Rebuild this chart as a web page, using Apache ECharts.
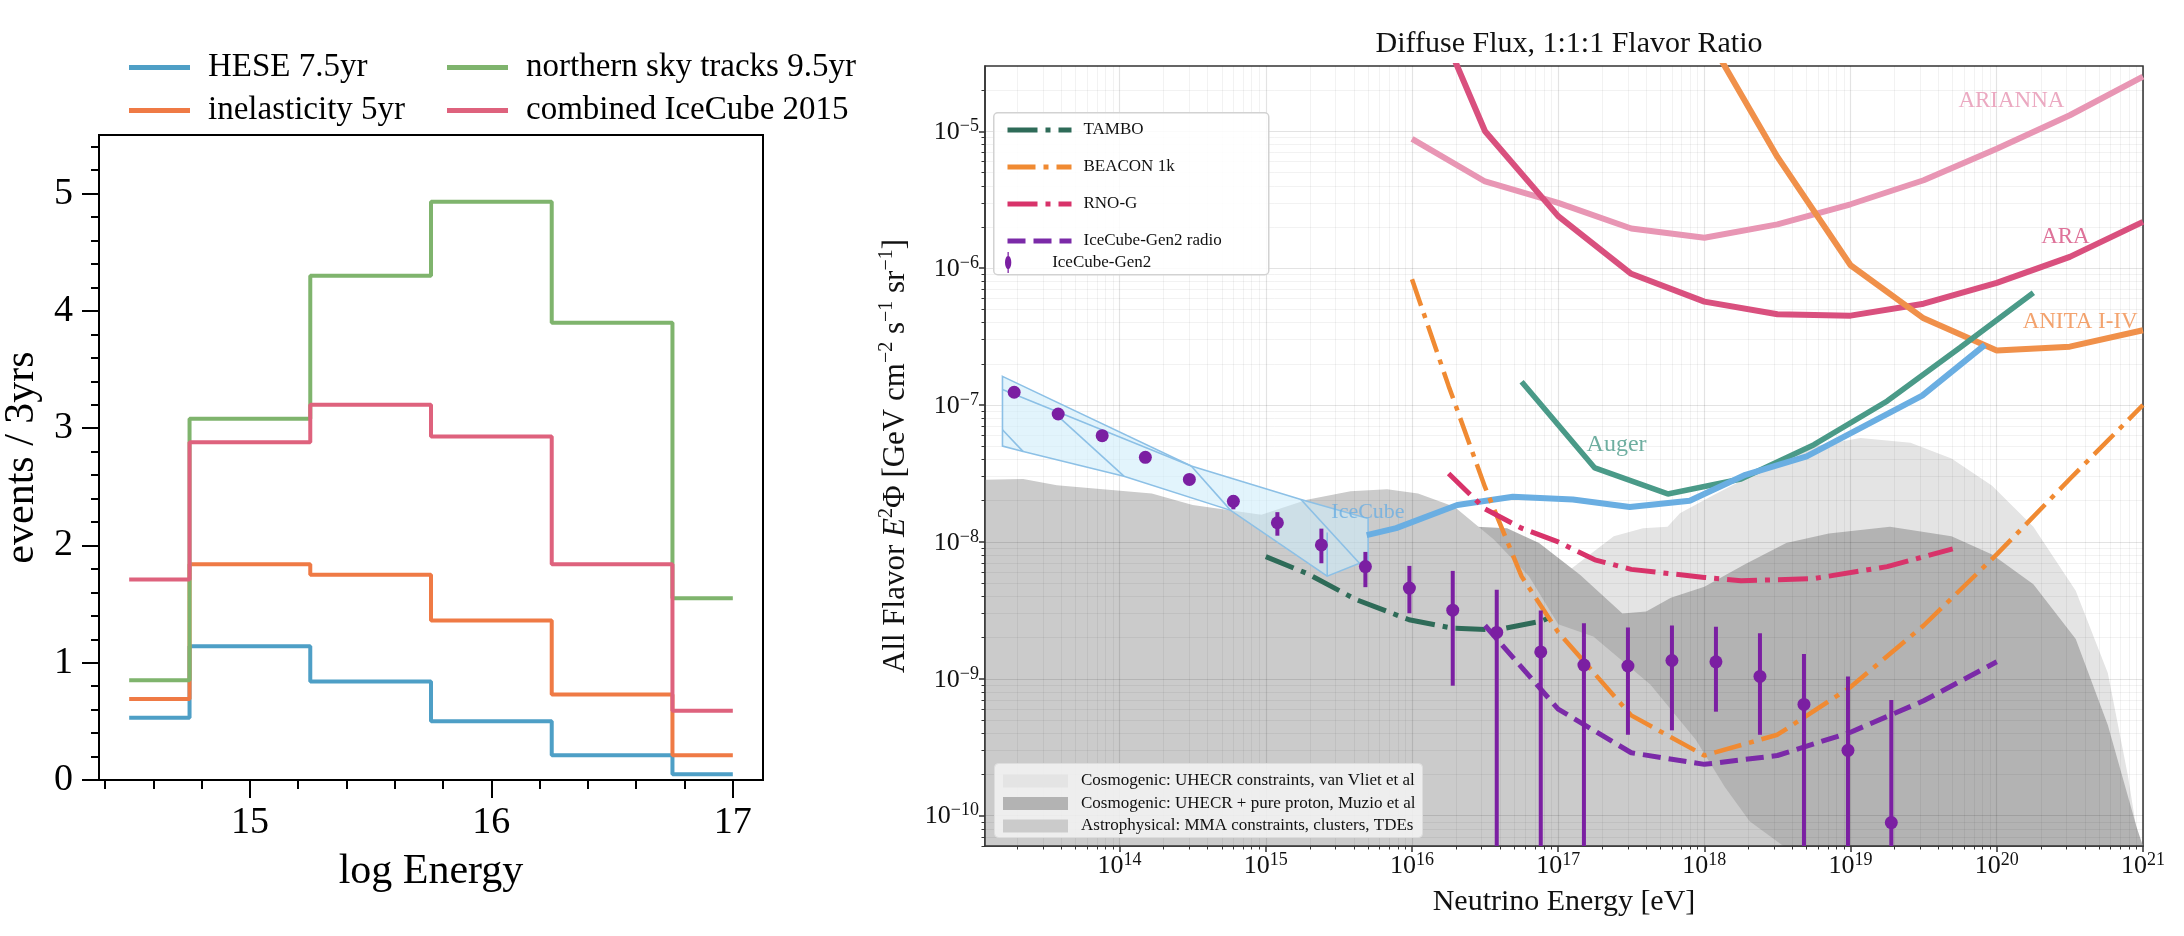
<!DOCTYPE html>
<html>
<head>
<meta charset="utf-8">
<script src="https://cdn.jsdelivr.net/npm/echarts@6/dist/echarts.min.js"></script>
<style>
  html, body { margin: 0; padding: 0; background: #fff; }
  #chart { width: 2184px; height: 936px; }
</style>
</head>
<body>
<div id="chart"></div>
<script>
// ---------- left panel: events per bin ----------
const binEdges = [14.5, 14.75, 15.25, 15.75, 16.25, 16.75, 17.0];
const heseEvents = [0.53, 1.14, 0.84, 0.50, 0.21, 0.05];
const inelasticityEvents = [0.69, 1.84, 1.75, 1.36, 0.73, 0.21];
const northernEvents = [0.85, 3.08, 4.30, 4.93, 3.90, 1.55];
const combinedEvents = [1.71, 2.88, 3.20, 2.93, 1.84, 0.59];
const histXTicks = [15, 16, 17];
const histXMinor = [14.4, 14.6, 14.8, 15.2, 15.4, 15.6, 15.8, 16.2, 16.4, 16.6, 16.8];
const histYTicks = [0, 1, 2, 3, 4, 5];
const histYMinor = [0.2, 0.4, 0.6, 0.8, 1.2, 1.4, 1.6, 1.8, 2.2, 2.4, 2.6, 2.8,
                    3.2, 3.4, 3.6, 3.8, 4.2, 4.4, 4.6, 4.8, 5.2, 5.4];

// ---------- right panel: diffuse flux sensitivities ----------
const ariannaE = [1e16, 3.16e16, 1e17, 3.16e17, 1e18, 3.16e18, 1e19, 3.16e19, 1e20, 3.16e20, 1e21];
const ariannaF = [8.8e-6, 4.3e-6, 3.0e-6, 1.95e-6, 1.67e-6, 2.09e-6, 2.93e-6, 4.39e-6, 7.46e-6, 1.31e-5, 2.51e-5];
const araE = [1e16, 3.16e16, 1e17, 3.16e17, 1e18, 3.16e18, 1e19, 3.16e19, 1e20, 3.16e20, 1e21];
const araF = [1.78e-4, 1.0e-5, 2.4e-6, 9.1e-7, 5.7e-7, 4.6e-7, 4.5e-7, 5.5e-7, 7.8e-7, 1.21e-6, 2.18e-6];
const anitaE = [1e18, 3.16e18, 1e19, 3.16e19, 1e20, 3.16e20, 1e21];
const anitaF = [5.4e-5, 6.5e-6, 1.05e-6, 4.3e-7, 2.5e-7, 2.67e-7, 3.52e-7];
const augerE = [5.62e16, 1.78e17, 5.62e17, 1.78e18, 5.62e18, 1.78e19, 5.62e19, 1.78e20];
const augerF = [1.48e-7, 3.47e-8, 2.24e-8, 2.88e-8, 5.13e-8, 1.07e-7, 2.63e-7, 6.61e-7];
const icecubeE = [4.9e15, 7.8e15, 2.04e16, 4.9e16, 1.26e17, 3.09e17, 7.94e17, 1.91e18, 5.01e18, 3.09e19, 8.3e19];
const icecubeF = [1.12e-8, 1.26e-8, 1.86e-8, 2.14e-8, 2.04e-8, 1.8e-8, 2.0e-8, 3.09e-8, 4.22e-8, 1.17e-7, 2.75e-7];
const tamboE = [1e15, 1.9e15, 4.17e15, 9.55e15, 1.9e16, 3.8e16, 7.6e16, 8.9e16];
const tamboF = [7.8e-9, 5.9e-9, 3.78e-9, 2.7e-9, 2.34e-9, 2.28e-9, 2.63e-9, 2.82e-9];
const beaconE = [1e16, 1.78e16, 3.16e16, 5.62e16, 1e17, 3.16e17, 1e18, 3.16e18, 1e19, 3.16e19, 1e20, 3.16e20, 1e21];
const beaconF = [8.3e-7, 1.38e-7, 2.51e-8, 5.6e-9, 2.19e-9, 5.4e-10, 2.75e-10, 3.9e-10, 8.7e-10, 2.45e-9, 8.1e-9, 2.88e-8, 1.0e-7];
const rnogE = [1.78e16, 3.16e16, 5.62e16, 1e17, 1.78e17, 3.16e17, 1e18, 1.78e18, 5.62e18, 1.78e19, 5.0e19];
const rnogF = [3.16e-8, 1.74e-8, 1.26e-8, 1.0e-8, 7.4e-9, 6.3e-9, 5.5e-9, 5.2e-9, 5.4e-9, 6.6e-9, 8.9e-9];
const gen2RadioE = [3.16e16, 1e17, 3.16e17, 1e18, 3.16e18, 1e19, 3.16e19, 1e20];
const gen2RadioF = [2.45e-9, 6.0e-10, 2.88e-10, 2.37e-10, 2.75e-10, 4.07e-10, 6.9e-10, 1.33e-9];

// IceCube-Gen2 points (lower bound 0 = error bar down to zero)
const gen2E = [1.9e13, 3.8e13, 7.6e13, 1.5e14, 3.0e14, 6.0e14, 1.2e15, 2.4e15, 4.8e15, 9.6e15, 1.9e16,
               3.8e16, 7.6e16, 1.5e17, 3.0e17, 6.0e17, 1.2e18, 2.4e18, 4.8e18, 9.6e18, 1.9e19];
const gen2F = [1.24e-7, 8.6e-8, 5.97e-8, 4.15e-8, 2.86e-8, 1.98e-8, 1.38e-8, 9.5e-9, 6.6e-9, 4.6e-9, 3.17e-9,
               2.18e-9, 1.57e-9, 1.26e-9, 1.24e-9, 1.36e-9, 1.33e-9, 1.04e-9, 6.5e-10, 3.0e-10, 8.9e-11];
const gen2Lo = [1.19e-7, 8.3e-8, 5.75e-8, 4.0e-8, 2.72e-8, 1.73e-8, 1.11e-8, 6.98e-9, 4.67e-9, 3.01e-9, 8.9e-10,
                0, 0, 0, 3.9e-10, 4.2e-10, 5.75e-10, 3.9e-10, 0, 0, 0];
const gen2Hi = [1.30e-7, 8.9e-8, 6.2e-8, 4.3e-8, 3.0e-8, 2.2e-8, 1.65e-8, 1.25e-8, 8.45e-9, 6.68e-9, 6.14e-9,
                4.47e-9, 3.16e-9, 2.55e-9, 2.37e-9, 2.45e-9, 2.4e-9, 2.15e-9, 1.52e-9, 1.04e-9, 7.0e-10];

// shaded model regions (upper edges, filled down to the axis)
const vanVlietE = [5.0e16, 1.26e17, 2.4e17, 3.8e17, 5.6e17, 6.8e17, 1.15e18, 2.63e18, 5.0e18, 1.17e19,
                   2.57e19, 4.9e19, 9.3e19, 1.78e20, 3.47e20, 5.75e20, 7.9e20, 9.3e20];
const vanVlietF = [3.2e-9, 6.5e-9, 1.1e-8, 1.26e-8, 1.29e-8, 1.62e-8, 2.19e-8, 3.47e-8, 4.9e-8, 5.75e-8,
                   5.3e-8, 4.07e-8, 2.57e-8, 1.29e-8, 4.4e-9, 1.1e-9, 1.95e-10, 6.5e-11];
const muzioE = [1.58e16, 2.75e16, 4.47e16, 7.4e16, 1.41e17, 2.75e17, 4.0e17, 5.9e17, 1e18, 1.91e18,
                3.63e18, 7.1e18, 1.86e19, 4.9e19, 9.3e19, 1.78e20, 3.47e20, 5.75e20, 9.1e20, 1e21];
const muzioF = [6.3e-9, 1.29e-8, 1.26e-8, 9.8e-9, 5.75e-9, 3.0e-9, 3.1e-9, 3.9e-9, 4.7e-9, 6.9e-9,
                9.8e-9, 1.15e-8, 1.29e-8, 1.1e-8, 8.1e-9, 4.9e-9, 1.95e-9, 4.6e-10, 8.1e-11, 5.9e-11];
const astroE = [1.2e13, 2.19e13, 3.72e13, 1.66e14, 3.16e14, 9.33e14, 1.91e15, 3.8e15, 6.76e15, 1.1e16,
                1.95e16, 3.63e16, 6.31e16, 1e17, 1.74e17, 4.27e17, 8.71e17, 1.38e18, 2.04e18, 3.47e18];
const astroF = [2.84e-8, 2.88e-8, 2.59e-8, 2.26e-8, 1.86e-8, 1.58e-8, 2.03e-8, 2.34e-8, 2.43e-8, 2.26e-8,
                1.81e-8, 1.04e-8, 5.6e-9, 2.5e-9, 2.04e-9, 9.1e-10, 3.6e-10, 1.62e-10, 9.1e-11, 5.9e-11];

// IceCube measured band
const bandUpperE = [1.58e13, 3.09e14, 1.74e15, 5.01e15];
const bandUpperF = [1.62e-7, 3.59e-8, 2.04e-8, 1.48e-8];
const bandLowerE = [1.58e13, 2.19e13, 1.07e14, 5.75e14, 2.63e15, 4.37e15, 5.01e15];
const bandLowerF = [5.01e-8, 4.57e-8, 3.02e-8, 1.7e-8, 5.62e-9, 6.98e-9, 6.98e-9];
const bandEdgesE = [[1.58e13, 2.19e13], [3.72e13, 1.07e14], [3.09e14, 5.75e14], [1.74e15, 4.37e15], [2.63e15, 2.63e15], [1.58e13, 3.09e14]];
const bandEdgesF = [[6.6e-8, 4.57e-8], [8.45e-8, 3.02e-8], [3.59e-8, 1.7e-8], [2.04e-8, 6.98e-9], [1.17e-8, 5.62e-9], [1.3e-7, 3.59e-8]];

const fluxXTicks = [1e14, 1e15, 1e16, 1e17, 1e18, 1e19, 1e20, 1e21];
const fluxYTicks = [1e-10, 1e-9, 1e-8, 1e-7, 1e-6, 1e-5];
const decadesX = [1e13, 1e14, 1e15, 1e16, 1e17, 1e18, 1e19, 1e20];
const decadesY = [1e-11, 1e-10, 1e-9, 1e-8, 1e-7, 1e-6, 1e-5];
const mantissas = [2, 3, 4, 5, 6, 7, 8, 9];
const fluxXMinor = [].concat(...decadesX.map(d => mantissas.map(m => m * d)));
const fluxYMinor = [].concat(...decadesY.map(d => mantissas.map(m => m * d)));

// curve names written on the plot
const curveNotes = [
  { text: 'ARIANNA', e: 1.26e20, f: 1.68e-5, color: '#e693b2', size: 23 },
  { text: 'ARA', e: 2.95e20, f: 1.68e-6, color: '#d64f7f', size: 23 },
  { text: 'ANITA I-IV', e: 3.72e20, f: 4.04e-7, color: '#f08c4a', size: 23 },
  { text: 'Auger', e: 2.51e17, f: 5.13e-8, color: '#4a9a88', size: 24 },
  { text: 'IceCube', e: 5.0e15, f: 1.66e-8, color: '#6aaee2', size: 22 }
];

const FONT = 'Liberation Serif';
const chart = echarts.init(document.getElementById('chart'));

const pairs = (xs, ys) => xs.map((x, i) => [x, ys[i]]);
const stepData = vals => binEdges.map((x, i) => [x, vals[Math.min(i, vals.length - 1)]]);

function histSeries(name, vals, color) {
  return {
    name, type: 'line', xAxisIndex: 0, yAxisIndex: 0, step: 'end', symbol: 'none',
    data: stepData(vals), lineStyle: { color, width: 4 }, itemStyle: { color }, z: 3, silent: true
  };
}

function curve(name, xs, ys, color, width, dash) {
  return {
    name, type: 'line', xAxisIndex: 2, yAxisIndex: 2, symbol: 'none', clip: true, silent: true,
    data: pairs(xs, ys), z: 6,
    lineStyle: { color, width, type: dash || 'solid', cap: 'butt' }, itemStyle: { color }
  };
}

function region(name, xs, ys, color, z) {
  return {
    name, type: 'custom', xAxisIndex: 2, yAxisIndex: 2, z, silent: true,
    itemStyle: { color },
    data: [[xs[0], ys[0]]],
    renderItem: (params, api) => {
      const cs = params.coordSys;
      const bottom = cs.y + cs.height;
      const pts = xs.map((x, i) => {
        const p = api.coord([x, ys[i]]);
        return [Math.max(cs.x, Math.min(p[0], cs.x + cs.width)), Math.min(p[1], bottom)];
      });
      pts.push([pts[pts.length - 1][0], bottom]);
      pts.push([pts[0][0], bottom]);
      return { type: 'polygon', shape: { points: pts }, style: { fill: color } };
    }
  };
}

const supLabel = v => {
  const n = Math.round(Math.log10(v));
  return '{b|10}{s|' + (n < 0 ? '\u2212' + (-n) : n) + '}';
};
const supRich = {
  b: { fontSize: 26, fontFamily: FONT, color: '#111', lineHeight: 28, verticalAlign: 'bottom' },
  s: { fontSize: 18, fontFamily: FONT, color: '#111', lineHeight: 15, verticalAlign: 'top' }
};

const gen2Color = '#7b1fa2';
const errorBarIcon = 'path://M4.4,0 H5.6 V20 H4.4 Z M5,3.5 A3,6.5 0 1 1 5,16.5 A3,6.5 0 1 1 5,3.5 Z';

const option = {
  animation: false,
  textStyle: { fontFamily: FONT },
  title: {
    text: 'Diffuse Flux, 1:1:1 Flavor Ratio', left: 1564, top: 24, textAlign: 'center',
    textStyle: { fontFamily: FONT, fontSize: 30, fontWeight: 'normal', color: '#111' }
  },
  grid: [
    { left: 99, top: 135, width: 664, height: 645, show: true, borderColor: '#000', borderWidth: 2,
      backgroundColor: 'transparent', outerBoundsMode: 'none', containLabel: false },
    { left: 985, top: 66, width: 1158, height: 780, show: true, borderColor: '#333', borderWidth: 1.5,
      backgroundColor: 'transparent', outerBoundsMode: 'none', containLabel: false }
  ],
  xAxis: [
    { type: 'value', gridIndex: 0, position: 'bottom', min: 14.375, max: 17.125,
      axisLine: { show: true, onZero: false, lineStyle: { color: '#000', width: 2 } },
      axisTick: { customValues: histXTicks, length: 18, lineStyle: { color: '#000', width: 2 } },
      axisLabel: { customValues: histXTicks, fontSize: 38, color: '#000', margin: 24, fontFamily: FONT },
      splitLine: { show: false },
      name: 'log Energy', nameLocation: 'middle', nameGap: 71, nameMoveOverlap: false,
      nameTextStyle: { fontSize: 42, color: '#000', fontFamily: FONT } },
    { type: 'value', gridIndex: 0, position: 'bottom', min: 14.375, max: 17.125,
      axisLine: { show: false, onZero: false },
      axisTick: { customValues: histXMinor, length: 9, lineStyle: { color: '#000', width: 2 } },
      axisLabel: { show: false }, splitLine: { show: false } },
    { type: 'log', logBase: 10, gridIndex: 1, position: 'bottom', min: 1.2e13, max: 1.001e21, z: 4,
      axisLine: { show: true, onZero: false, lineStyle: { color: '#333', width: 1.5 } },
      axisTick: { customValues: fluxXTicks, length: 6, lineStyle: { color: '#333', width: 1.5 } },
      axisLabel: { customValues: fluxXTicks, formatter: supLabel, rich: supRich, margin: 5 },
      splitLine: { show: true, lineStyle: { color: 'rgba(0,0,0,0.11)', width: 1.2 } },
      name: 'Neutrino Energy [eV]', nameLocation: 'middle', nameGap: 41, nameMoveOverlap: false,
      nameTextStyle: { fontSize: 30, color: '#111', fontFamily: FONT } },
    { type: 'log', logBase: 10, gridIndex: 1, position: 'bottom', min: 1.2e13, max: 1.001e21, z: 4,
      axisLine: { show: false, onZero: false },
      axisTick: { customValues: fluxXMinor, length: 3.5, lineStyle: { color: '#333', width: 1 } },
      axisLabel: { show: false },
      splitLine: { show: true, lineStyle: { color: 'rgba(0,0,0,0.05)', width: 1 } } }
  ],
  yAxis: [
    { type: 'value', gridIndex: 0, position: 'left', min: 0, max: 5.5,
      axisLine: { show: true, onZero: false, lineStyle: { color: '#000', width: 2 } },
      axisTick: { customValues: histYTicks, length: 17, lineStyle: { color: '#000', width: 2 } },
      axisLabel: { customValues: histYTicks, fontSize: 38, color: '#000', margin: 26, fontFamily: FONT },
      splitLine: { show: false },
      name: 'events / 3yrs', nameLocation: 'middle', nameGap: 56, nameRotate: 90, nameMoveOverlap: false,
      nameTextStyle: { fontSize: 42, color: '#000', fontFamily: FONT } },
    { type: 'value', gridIndex: 0, position: 'left', min: 0, max: 5.5,
      axisLine: { show: false, onZero: false },
      axisTick: { customValues: histYMinor, length: 8, lineStyle: { color: '#000', width: 2 } },
      axisLabel: { show: false }, splitLine: { show: false } },
    { type: 'log', logBase: 10, gridIndex: 1, position: 'left', min: 6e-11, max: 3e-5, z: 4,
      axisLine: { show: true, onZero: false, lineStyle: { color: '#333', width: 1.5 } },
      axisTick: { customValues: fluxYTicks, length: 6, lineStyle: { color: '#333', width: 1.5 } },
      axisLabel: { customValues: fluxYTicks, formatter: supLabel, rich: supRich, margin: 6 },
      splitLine: { show: true, lineStyle: { color: 'rgba(0,0,0,0.11)', width: 1.2 } },
      name: 'All Flavor {i|E}{s|2}\u03A6 [GeV cm{s|\u22122} s{s|\u22121} sr{s|\u22121}]',
      nameLocation: 'middle', nameGap: 70, nameRotate: 90, nameMoveOverlap: false,
      nameTextStyle: {
        fontSize: 31, color: '#111', fontFamily: FONT, lineHeight: 38,
        rich: {
          i: { fontSize: 31, fontStyle: 'italic', fontFamily: FONT, color: '#111', lineHeight: 38 },
          s: { fontSize: 20, fontFamily: FONT, color: '#111', lineHeight: 18, verticalAlign: 'top' }
        }
      } },
    { type: 'log', logBase: 10, gridIndex: 1, position: 'left', min: 6e-11, max: 3e-5, z: 4,
      axisLine: { show: false, onZero: false },
      axisTick: { customValues: fluxYMinor, length: 3.5, lineStyle: { color: '#333', width: 1 } },
      axisLabel: { show: false },
      splitLine: { show: true, lineStyle: { color: 'rgba(0,0,0,0.05)', width: 1 } } }
  ],
  legend: [
    { data: ['HESE 7.5yr', 'inelasticity 5yr'], left: 124, top: 46, orient: 'vertical',
      icon: 'rect', itemWidth: 61, itemHeight: 5, itemGap: 10, z: 10, selectedMode: false,
      textStyle: { fontFamily: FONT, fontSize: 33, lineHeight: 32, color: '#000', padding: [0, 0, 0, 13] } },
    { data: ['northern sky tracks 9.5yr', 'combined IceCube 2015'], left: 442, top: 46, orient: 'vertical',
      icon: 'rect', itemWidth: 61, itemHeight: 5, itemGap: 10, z: 10, selectedMode: false,
      textStyle: { fontFamily: FONT, fontSize: 33, lineHeight: 32, color: '#000', padding: [0, 0, 0, 13] } },
    { data: ['TAMBO', 'BEACON 1k', 'RNO-G', 'IceCube-Gen2 radio'], left: 1000, top: 115, orient: 'vertical',
      itemWidth: 64, itemHeight: 16, itemGap: 17, z: 10, selectedMode: false,
      itemStyle: { opacity: 0, borderWidth: 0 },
      lineStyle: { opacity: 1, width: 5 },
      textStyle: { fontFamily: FONT, fontSize: 17, lineHeight: 20, color: '#111', padding: [0, 0, 0, 7] } },
    { data: [{ name: 'IceCube-Gen2', icon: errorBarIcon, itemStyle: { color: gen2Color } }],
      left: 1000, top: 247, orient: 'vertical', itemWidth: 64, itemHeight: 21, z: 10, selectedMode: false,
      textStyle: { fontFamily: FONT, fontSize: 17, lineHeight: 20, color: '#111', padding: [0, 0, 0, 7] } },
    { data: [
        { name: 'Cosmogenic: UHECR constraints, van Vliet et al', icon: 'rect' },
        { name: 'Cosmogenic: UHECR + pure proton, Muzio et al', icon: 'rect' },
        { name: 'Astrophysical: MMA constraints, clusters, TDEs', icon: 'rect' }
      ],
      left: 998, top: 767, orient: 'vertical', itemWidth: 65, itemHeight: 13, itemGap: 4.5, z: 10, selectedMode: false,
      textStyle: { fontFamily: FONT, fontSize: 17, lineHeight: 18, color: '#111', padding: [0, 0, 0, 8] } }
  ],
  graphic: [
    { type: 'rect', left: 993, top: 112, z: 8, silent: true,
      shape: { width: 275, height: 162, r: 4 },
      style: { fill: 'rgba(255,255,255,0.85)', stroke: '#d2d2d2', lineWidth: 1.5 } },
    { type: 'rect', left: 994, top: 763, z: 8, silent: true,
      shape: { width: 428, height: 74, r: 4 },
      style: { fill: 'rgba(244,244,244,0.85)', stroke: '#dddddd', lineWidth: 1 } }
  ],
  series: [
    histSeries('HESE 7.5yr', heseEvents, '#4e9fc6'),
    histSeries('inelasticity 5yr', inelasticityEvents, '#ef7a45'),
    histSeries('northern sky tracks 9.5yr', northernEvents, '#7fb46d'),
    histSeries('combined IceCube 2015', combinedEvents, '#de627d'),

    region('Cosmogenic: UHECR constraints, van Vliet et al', vanVlietE, vanVlietF, '#e4e4e4', 1),
    region('Cosmogenic: UHECR + pure proton, Muzio et al', muzioE, muzioF, '#b3b3b3', 2),
    region('Astrophysical: MMA constraints, clusters, TDEs', astroE, astroF, '#cbcbcb', 3),

    { name: 'IceCube band', type: 'custom', xAxisIndex: 2, yAxisIndex: 2, z: 5, silent: true,
      data: [[bandUpperE[0], bandUpperF[0]]],
      renderItem: (params, api) => {
        const outline = pairs(bandUpperE, bandUpperF)
          .concat(pairs(bandLowerE, bandLowerF).reverse())
          .map(p => api.coord(p));
        const children = [{ type: 'polygon', shape: { points: outline },
          style: { fill: 'rgba(206,236,250,0.6)', stroke: '#8cc0e6', lineWidth: 1.6 } }];
        bandEdgesE.forEach((xs, k) => {
          const a = api.coord([xs[0], bandEdgesF[k][0]]);
          const b = api.coord([xs[1], bandEdgesF[k][1]]);
          children.push({ type: 'line', shape: { x1: a[0], y1: a[1], x2: b[0], y2: b[1] },
            style: { stroke: '#8cc0e6', lineWidth: 1.6 } });
        });
        return { type: 'group', children };
      } },

    curve('ARIANNA', ariannaE, ariannaF, '#e896b4', 6),
    curve('ARA', araE, araF, '#d9507e', 6),
    curve('ANITA I-IV', anitaE, anitaF, '#f0904a', 6),
    curve('Auger', augerE, augerF, '#4a9a88', 5.5),
    curve('IceCube', icecubeE, icecubeF, '#6aaee2', 6),
    curve('TAMBO', tamboE, tamboF, '#2e6b58', 5, [30, 8, 5, 8]),
    curve('BEACON 1k', beaconE, beaconF, '#f08a32', 4.5, [28, 8, 5, 8]),
    curve('RNO-G', rnogE, rnogF, '#d8336a', 5, [30, 8, 5, 8]),
    curve('IceCube-Gen2 radio', gen2RadioE, gen2RadioF, '#7b2aa8', 5, [18, 8]),

    { name: 'IceCube-Gen2', type: 'custom', xAxisIndex: 2, yAxisIndex: 2, z: 7, silent: true,
      itemStyle: { color: gen2Color },
      data: gen2E.map((e, i) => [e, gen2F[i], gen2Lo[i], gen2Hi[i]]),
      encode: { x: 0, y: 1 },
      renderItem: (params, api) => {
        const cs = params.coordSys;
        const bottom = cs.y + cs.height;
        const e = api.value(0);
        const c = api.coord([e, api.value(1)]);
        const hi = api.coord([e, api.value(3)]);
        const lo = api.value(2);
        const yLo = lo > 0 ? Math.min(api.coord([e, lo])[1], bottom) : bottom;
        return { type: 'group', children: [
          { type: 'line', shape: { x1: c[0], y1: hi[1], x2: c[0], y2: yLo },
            style: { stroke: gen2Color, lineWidth: 4 } },
          { type: 'circle', shape: { cx: c[0], cy: c[1], r: 6.5 }, style: { fill: gen2Color } }
        ] };
      } },

    { name: 'curve notes', type: 'scatter', xAxisIndex: 2, yAxisIndex: 2, z: 7, silent: true,
      symbolSize: 1, itemStyle: { color: 'rgba(0,0,0,0)' },
      data: curveNotes.map(n => ({ name: n.text, value: [n.e, n.f],
        label: { color: n.color, fontSize: n.size } })),
      label: { show: true, position: 'inside', formatter: '{b}', fontFamily: FONT } }
  ]
};

chart.setOption(option);
</script>
</body>
</html>
